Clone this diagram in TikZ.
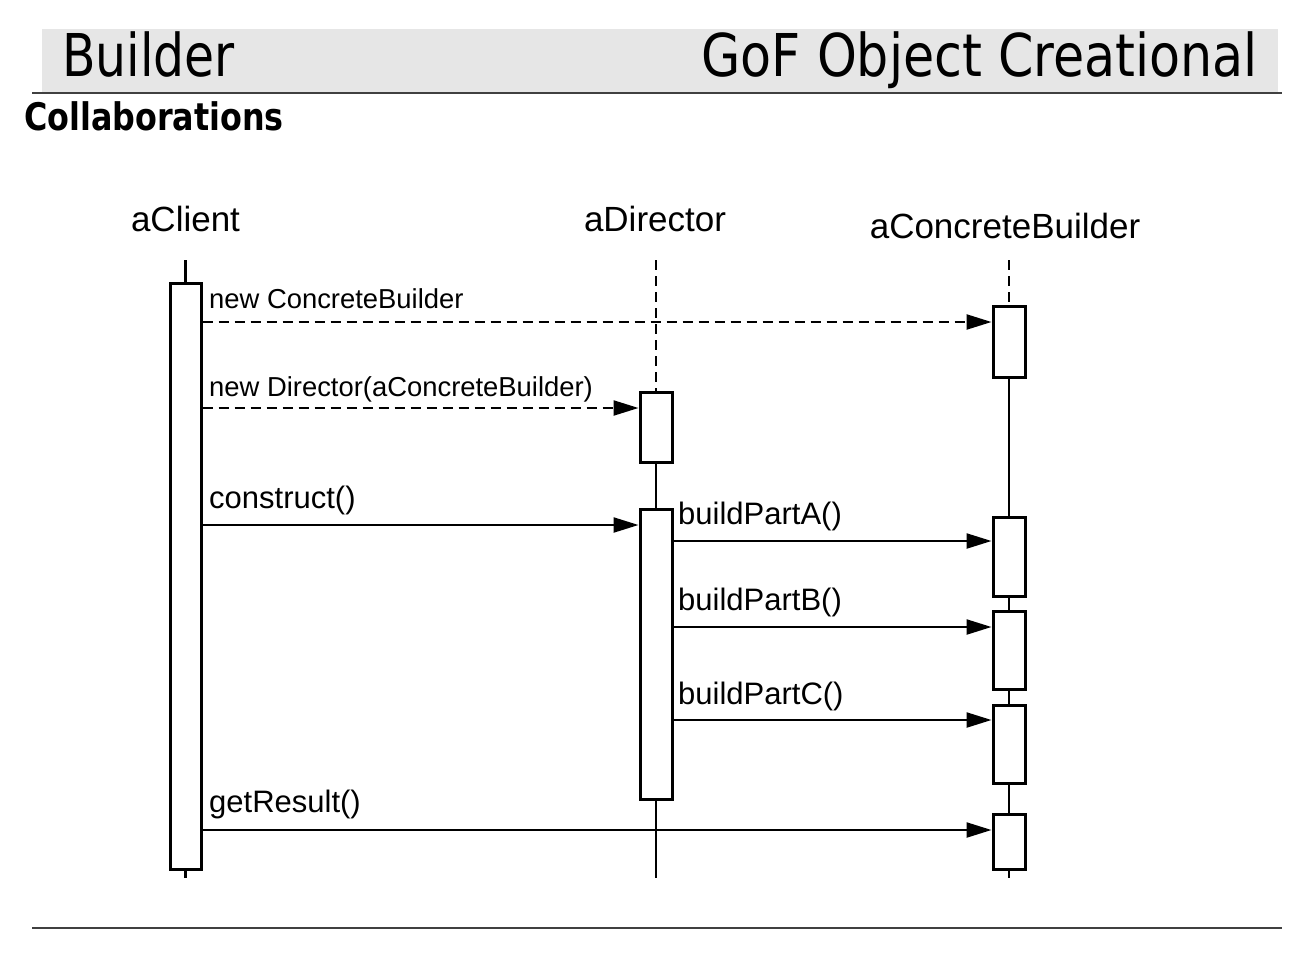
\documentclass[tikz,border=0pt]{standalone}
\usepackage{fontspec}
\setmainfont{Liberation Sans}
\newfontfamily\hdrfont{DejaVu Sans Condensed}
\usetikzlibrary{arrows.meta}
\definecolor{band}{HTML}{E6E6E6}
\definecolor{rule}{HTML}{404040}
\tikzset{
  actbox/.style={draw, line width=3pt, fill=white, rectangle, inner sep=0pt, minimum width=31pt},
  life/.style={line width=2.3pt},
  dlife/.style={line width=2.4pt, dash pattern=on 10pt off 6pt},
  msg/.style={line width=2.3pt, -{Triangle[length=25pt,width=15pt]}},
  dmsg/.style={msg, dash pattern=on 10pt off 6pt},
  lbl/.style={inner sep=0pt, font=\fontsize{27.4}{30}\selectfont},
  lblb/.style={inner sep=0pt, font=\fontsize{31}{34}\selectfont},
  head/.style={inner sep=0pt, font=\fontsize{35}{38}\selectfont},
}
\begin{document}
\begin{tikzpicture}[x=1pt,y=-1pt]
\useasboundingbox (0,0) rectangle (1316,966);
% header
\fill[band] (42,29) rectangle (1278,92);
\draw[rule, line width=2pt] (32,92.5) -- (1282,92.5);
\node[inner sep=0pt, anchor=base west, font=\hdrfont\fontsize{59}{60}\selectfont] (title) at (62,77) {\scalebox{0.92}[1]{Builder}};
\node[inner sep=0pt, anchor=base east, font=\hdrfont\fontsize{59}{60}\selectfont] (cat) at (1258,77) {\scalebox{0.955}[1]{GoF Object Creational}};
\node[inner sep=0pt, anchor=base west, font=\hdrfont\bfseries\fontsize{38}{40}\selectfont] (sec) at (24,130) {\scalebox{0.93}[1]{Collaborations}};
\draw[rule, line width=1.5pt] (32,928) -- (1282,928);

% heads
\node[head, anchor=base] (hc) at (185.5,231) {aClient};
\node[head, anchor=base] (hd) at (655,231) {aDirector};
\node[head, anchor=base] (hb) at (1005,238) {aConcreteBuilder};

\coordinate (ct) at (185.5,260);
\coordinate (cb) at (185.5,878);
\coordinate (dt) at (656,260);
\coordinate (db) at (656,878);
\coordinate (bt) at (1009,260);
\coordinate (bb) at (1009,878);

% activation boxes
\path
  node[actbox, minimum height=586pt] (c1) at (185.5,576) {}
  node[actbox, minimum height=70pt, minimum width=32pt] (d1) at (656,427) {}
  node[actbox, minimum height=290pt, minimum width=32pt] (d2) at (656,654) {}
  node[actbox, minimum height=71pt, minimum width=32pt] (b1) at (1009,341.5) {}
  node[actbox, minimum height=79pt, minimum width=32pt] (bA) at (1009,556.5) {}
  node[actbox, minimum height=78pt, minimum width=32pt] (bB) at (1009,650) {}
  node[actbox, minimum height=78pt, minimum width=32pt] (bC) at (1009,744) {}
  node[actbox, minimum height=55pt, minimum width=32pt] (bD) at (1009,841.5) {};

% lifelines
\draw[life] (ct) -- (c1.north);
\draw[life] (c1.south) -- (cb);
\draw[dlife] (dt) -- (d1.north);
\draw[life] (d1.south) -- (d2.north);
\draw[life] (d2.south) -- (db);
\draw[dlife] (bt) -- (b1.north);
\draw[life] (b1.south) -- (bA.north);
\draw[life] (bA.south) -- (bB.north);
\draw[life] (bB.south) -- (bC.north);
\draw[life] (bC.south) -- (bD.north);
\draw[life] (bD.south) -- (bb);

% messages
\draw[dmsg] (c1.east |- 0,322) -- (b1.west |- 0,322);
\draw[dmsg] (c1.east |- 0,408) -- (d1.west |- 0,408);
\draw[msg] (c1.east |- 0,525) -- (d2.west |- 0,525);
\draw[msg] (d2.east |- 0,541) -- (bA.west |- 0,541);
\draw[msg] (d2.east |- 0,627) -- (bB.west |- 0,627);
\draw[msg] (d2.east |- 0,720) -- (bC.west |- 0,720);
\draw[msg] (c1.east |- 0,830) -- (bD.west |- 0,830);

% labels
\node[lbl, anchor=base west] (m1) at (209,308) {new ConcreteBuilder};
\node[lbl, anchor=base west] (m2) at (209,396) {new Director(aConcreteBuilder)};
\node[lblb, anchor=base west] (m3) at (209,508) {construct()};
\node[lblb, anchor=base west] (m4) at (678,524) {buildPartA()};
\node[lblb, anchor=base west] (m5) at (678,610) {buildPartB()};
\node[lblb, anchor=base west] (m6) at (678,704) {buildPartC()};
\node[lblb, anchor=base west] (m7) at (209,812) {getResult()};
\end{tikzpicture}
\end{document}
